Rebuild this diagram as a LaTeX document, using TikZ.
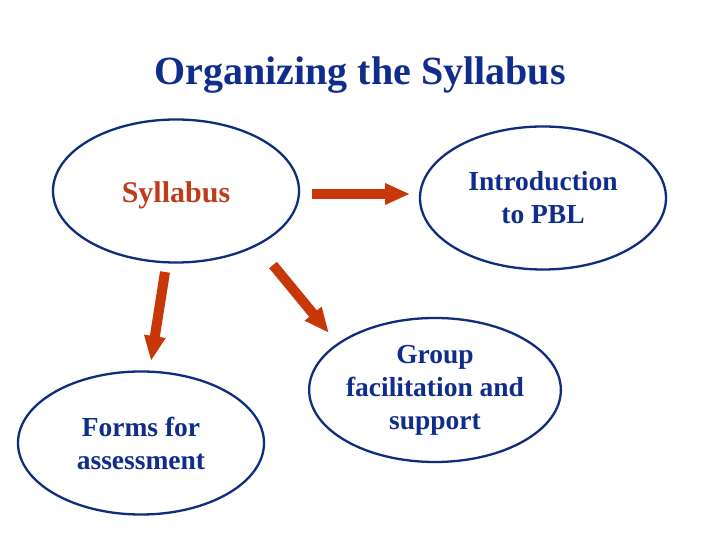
\documentclass[tikz,border=0pt]{standalone}
\usepackage{fontspec}
\setmainfont{Liberation Serif}
\usetikzlibrary{shapes.geometric,arrows.meta}
\definecolor{titleblue}{RGB}{15,45,140}
\definecolor{lineblue}{RGB}{15,45,125}
\definecolor{arrowred}{RGB}{200,55,10}
\definecolor{sylred}{RGB}{190,60,25}
\tikzset{
  bubble/.style={draw=lineblue, line width=2.3pt, ellipse, minimum width=246pt, minimum height=143pt, inner sep=0pt, align=center, text=titleblue, font=\bfseries\fontsize{27.5}{33}\selectfont},
  bigarrow/.style={draw=arrowred, line width=10pt, -{Triangle[width=20pt,length=25pt]}, fill=arrowred}
}
\begin{document}
\begin{tikzpicture}[x=1pt,y=1pt]
\useasboundingbox (0,0) rectangle (720,540);
\fill[white] (0,0) rectangle (720,540);
\node[anchor=base, text=titleblue, font=\bfseries\fontsize{40}{48}\selectfont] (title) at (360,455) {Organizing the Syllabus};
\node[bubble] (syl) at (176,349) {};
\node[text=sylred, font=\bfseries\fontsize{30}{36}\selectfont, anchor=base] (syltext) at (176,337) {Syllabus};
\node[bubble] (intro) at (543,342) {Introduction\\to PBL};
\node[bubble] (forms) at (141,97) {Forms for\\assessment};
\node[bubble, minimum width=244pt, minimum height=144pt] (group) at (435,150) {Group\\facilitation and\\support};
\coordinate (a1s) at (312,346);
\coordinate (a1e) at (410,346);
\coordinate (a2s) at (165,268);
\coordinate (a2e) at (151,179);
\coordinate (a3s) at (273,275);
\coordinate (a3e) at (329,207);
\draw[bigarrow] (a1s) -- (a1e);
\draw[bigarrow] (a2s) -- (a2e);
\draw[bigarrow] (a3s) -- (a3e);
\end{tikzpicture}
\end{document}
